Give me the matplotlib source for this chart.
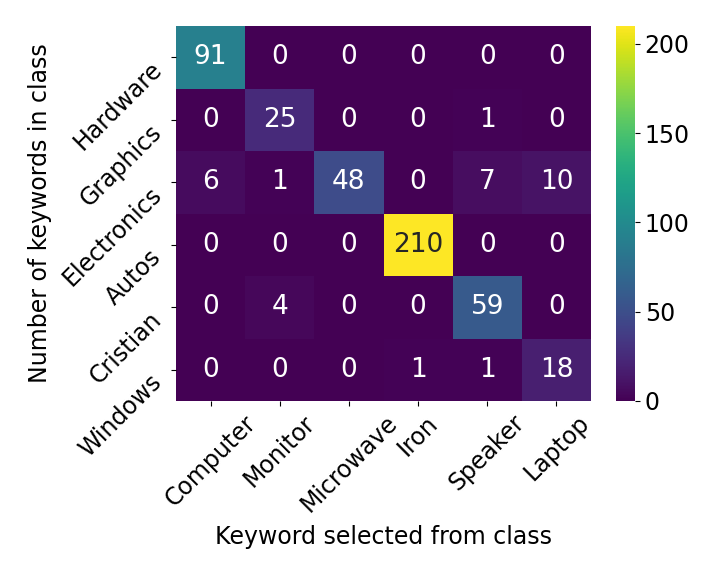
import numpy as np
import pandas as pd
import matplotlib
matplotlib.use("Agg")
import matplotlib.pyplot as plt
import seaborn as sns

# rows: class of the keywords, cols: keyword chosen
row_labels = ["Hardware", "Graphics", "Electronics", "Autos", "Cristian", "Windows"]
col_labels = ["Computer", "Monitor", "Microwave", "Iron", "Speaker", "Laptop"]
counts = [
    [91, 0, 0, 0, 0, 0],
    [0, 25, 0, 0, 1, 0],
    [6, 1, 48, 0, 7, 10],
    [0, 0, 0, 210, 0, 0],
    [0, 4, 0, 0, 59, 0],
    [0, 0, 0, 1, 1, 18],
]

cm = pd.DataFrame(counts, index=row_labels, columns=col_labels)

W, H = 720, 576
plt.rcParams["font.size"] = 17
fig = plt.figure(figsize=(7.2, 5.76), dpi=100)
ax = fig.add_axes([176 / W, 1 - 401 / H, 415 / W, 375 / H])
cax = fig.add_axes([616 / W, 1 - 401 / H, 19 / W, 375 / H])
sns.heatmap(cm, annot=True, fmt="d", cmap="viridis", ax=ax, cbar_ax=cax,
            annot_kws={"fontsize": 19})
ax.set_xticklabels(ax.get_xticklabels(), rotation=45, ha="center", va="top")
ax.set_yticklabels(ax.get_yticklabels(), rotation=45, ha="right", va="top")
ax.set_xlabel("Keyword selected from class", labelpad=6)
ax.set_ylabel("Number of keywords in class", labelpad=4)
fig.savefig("out.png", dpi=100)
